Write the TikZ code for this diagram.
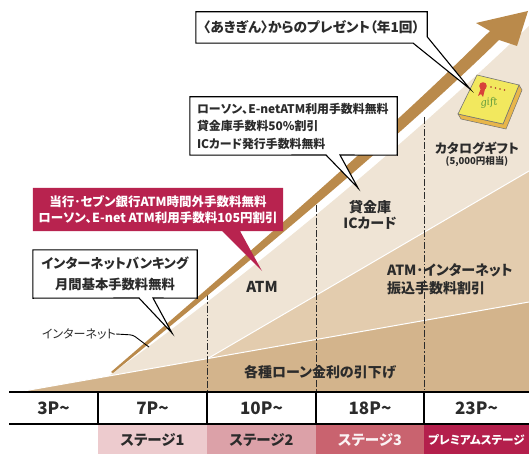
\documentclass[tikz,border=0pt]{standalone}
\usepackage{fontspec}
\setmainfont{Noto Sans CJK JP}[RawFeature=+palt]
\newfontfamily\giftfont{DejaVu Serif}
\usetikzlibrary{calc}

\definecolor{txt}{HTML}{2B2B2B}
\definecolor{arrowc}{HTML}{BA8A4B}
\definecolor{lightc}{HTML}{EFE4D5}
\definecolor{midc}{HTML}{E3CCAE}
\definecolor{darkc}{HTML}{D3B48C}
\definecolor{crimson}{HTML}{B8234F}
\definecolor{stA}{HTML}{EDCBCE}
\definecolor{stB}{HTML}{DCA1A8}
\definecolor{stC}{HTML}{C9636F}
\definecolor{stD}{HTML}{B41F4C}
\definecolor{coverc}{HTML}{F2E85E}
\definecolor{sidec}{HTML}{E8B64A}
\definecolor{giftgreen}{HTML}{5E9A3C}
\definecolor{sealred}{HTML}{D8423A}

\tikzset{
  fs/.style 2 args={font=\fontsize{#1}{#2}\selectfont\bfseries},
  boxnode/.style={inner sep=0pt, align=center},
  calloutline/.style={fill=white, draw=black, line width=1.1pt, line join=miter},
  calloutred/.style={fill=crimson, draw=none},
  edgewhite/.style={draw=white, line width=1pt},
  dashdotline/.style={draw=txt, line width=0.8pt, dash pattern=on 7pt off 2pt on 1.5pt off 2pt},
  tableline/.style={draw=black, line width=1.1pt},
  cellnum/.style={fs={17}{20}},
  stagecell/.style={fs={14.5}{16}},
}

\begin{document}
\begin{tikzpicture}[x=1pt, y=-1pt, every node/.style={text=txt, inner sep=0pt}]
\useasboundingbox (0,0) rectangle (529,454);

% --- stacked wedges ---
\fill[lightc] (110,375) .. controls (260,266) and (410,140) .. (529,26) -- (529,392) -- (110,392) -- cycle;
\fill[midc] (207,359) -- (529,171) -- (529,392) -- (207,392) -- cycle;
\draw[edgewhite] (207,359) -- (529,171);
\fill[darkc] (18,392) -- (529,302) -- (529,392) -- cycle;
\draw[edgewhite] (18,392) -- (529,302);

% --- stage separators ---
\draw[dashdotline] (207,293) -- (207,392);
\draw[dashdotline] (316,205) -- (316,392);
\draw[dashdotline] (424,117) -- (424,392);

% --- rising arrow ---
\fill[arrowc] (111,372) .. controls (250,252) and (395,126) .. (490,31)
  -- (476,23) -- (528,11) -- (517,46) -- (499,40)
  .. controls (402,135) and (254,258) .. (113,373) -- cycle;

% --- labels inside the wedges ---
\node[fs={15}{16}] (atm) at (262,287) {ATM};
\node[fs={14}{16}, align=center] (safe) at (370,215) {貸金庫\\ICカード};
\node[fs={14}{18}, align=left, anchor=west] (transfer) at (387,279) {ATM･インターネット\\振込手数料割引};
\node[fs={14}{16}] (loan) at (320,372) {各種ローン金利の引下げ};
\node[font=\fontsize{12}{14}\selectfont, anchor=east] (inet) at (116,334) {インターネット};
\coordinate (inettip) at (149,347);
\draw[line width=0.9pt, rounded corners=3pt] (inet.east) -- (133,335) -- (inettip);

% --- gift book ---
\fill[sidec, draw=black!55, line width=0.5pt] (519,85) -- (522,90) -- (506,129) -- (461,119) -- (458,114) -- (503,124) -- cycle;
\fill[coverc, draw=black!55, line width=0.6pt] (477,75) -- (519,85) -- (503,124) -- (458,114) -- cycle;
\fill[sealred] (483,86) circle (3.8);
\fill[sealred] (481,88) -- (478,96) -- (481,94) -- (483,97) -- (485,89) -- cycle;
\foreach \k in {0,1,2,3} \fill[sealred!80!black] (491+4.5*\k,87+1*\k) circle (0.8);
\node[text=giftgreen, font=\giftfont\itshape\fontsize{10}{10}\selectfont, rotate=8] (giftword) at (489,103) {gift};
\node[fs={13}{14}] (catalog) at (477,148) {カタログギフト};
\node[fs={9.5}{11}] (catalogval) at (477,162) {(5,000円相当)};

% --- callouts ---
\node[boxnode, minimum width=231, minimum height=31] (present) at (311.5,27.5) {};
\coordinate (presenttip) at (470,89);
\draw[calloutline] (present.north west) -- (present.north east) -- ($(present.north east)+(0,25)$)
  -- (presenttip) -- ($(present.south east)+(-14,0)$) -- (present.south west) -- cycle;
\node[fs={13.7}{14}] at (present.center) {〈あきぎん〉からのプレゼント（年1回）};

\node[boxnode, minimum width=207, minimum height=58] (perks) at (293.5,126) {};
\coordinate (perkstip) at (358,188);
\draw[calloutline] (perks.north west) -- (perks.north east) -- (perks.south east)
  -- (340,155) -- (perkstip) -- (326,155) -- (perks.south west) -- cycle;
\node[fs={11.9}{17.5}, align=left, anchor=west] at ($(perks.west)+(7,0)$)
  {ローソン､E-netATM利用手数料無料\\貸金庫手数料50\%割引\\ICカード発行手数料無料};

\node[boxnode, minimum width=250, minimum height=43] (atmfree) at (158,209.5) {};
\coordinate (atmtip) at (262,271);
\fill[calloutred] (atmfree.north west) -- (atmfree.north east) -- (atmfree.south east)
  -- (240,231) -- (atmtip) -- (222,231) -- (atmfree.south west) -- cycle;
\node[fs={12.5}{16}, align=center, text=white] at (atmfree.center)
  {当行･セブン銀行ATM時間外手数料無料\\ローソン､E-net ATM利用手数料105円割引};

\node[boxnode, minimum width=164, minimum height=48] (netbank) at (115,274) {};
\coordinate (netbanktip) at (172,333);
\draw[calloutline] (netbank.north west) -- (netbank.north east) -- (netbank.south east)
  -- (153,298) -- (netbanktip) -- (139,298) -- (netbank.south west) -- cycle;
\node[fs={13.3}{21}, align=center] at (netbank.center) {インターネットバンキング\\月間基本手数料無料};

% --- points table ---
\fill[stA] (98,424) rectangle (207,454);
\fill[stB] (207,424) rectangle (316,454);
\fill[stC] (316,424) rectangle (424,454);
\fill[stD] (424,424) rectangle (529,454);
\draw[tableline] (9,392) -- (529,392);
\draw[tableline] (9,424) -- (529,424);
\foreach \xx in {98,207,316,424} \draw[tableline] (\xx,392) -- (\xx,424);

\node[cellnum] (p3) at (53.5,408) {3P\textasciitilde};
\node[cellnum] (p7) at (152.5,408) {7P\textasciitilde};
\node[cellnum] (p10) at (261.5,408) {10P\textasciitilde};
\node[cellnum] (p18) at (370,408) {18P\textasciitilde};
\node[cellnum] (p23) at (476.5,408) {23P\textasciitilde};

\node[stagecell] (s1) at (152.5,440) {ステージ1};
\node[stagecell] (s2) at (261.5,440) {ステージ2};
\node[stagecell, text=white!92!stC] (s3) at (370,440) {ステージ3};
\node[fs={11.6}{14}, text=white] (s4) at (476.5,440) {プレミアムステージ};
\end{tikzpicture}
\end{document}
